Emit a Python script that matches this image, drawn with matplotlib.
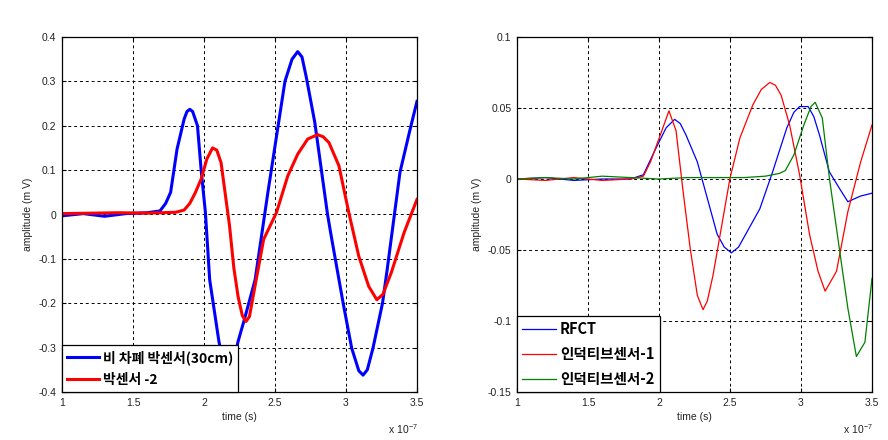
import matplotlib
matplotlib.use("Agg")
import matplotlib.pyplot as plt
from matplotlib.ticker import FixedLocator

# ---------------- data (time in units of 1e-7 s) ----------------
left_blue_x = [1.00, 1.15, 1.30, 1.45, 1.60, 1.69, 1.73, 1.765, 1.81, 1.86, 1.88, 1.90, 1.92, 1.954,
               1.98, 2.01, 2.04, 2.105, 2.14, 2.17, 2.20, 2.24, 2.284, 2.36, 2.45, 2.57, 2.62, 2.66,
               2.69, 2.72, 2.78, 2.87, 2.90, 2.98, 3.04, 3.09, 3.12, 3.15, 3.19, 3.257, 3.29, 3.38,
               3.45, 3.50]
left_blue_y = [-0.003, 0.002, -0.004, 0.002, 0.004, 0.008, 0.025, 0.05, 0.147, 0.215, 0.232, 0.237,
               0.232, 0.20, 0.10, 0.004, -0.147, -0.286, -0.34, -0.36, -0.345, -0.286, -0.237,
               -0.147, 0.05, 0.30, 0.35, 0.367, 0.355, 0.31, 0.208, 0.0, -0.056, -0.2, -0.301,
               -0.352, -0.362, -0.35, -0.301, -0.2, -0.124, 0.095, 0.19, 0.255]

left_red_x = [1.00, 1.20, 1.40, 1.60, 1.80, 1.86, 1.90, 1.94, 1.98, 2.02, 2.06, 2.09, 2.12, 2.18,
              2.21, 2.24, 2.27, 2.296, 2.32, 2.36, 2.42, 2.51, 2.59, 2.66, 2.73, 2.80, 2.84, 2.88,
              2.95, 3.02, 3.09, 3.16, 3.217, 3.26, 3.32, 3.41, 3.50]
left_red_y = [0.002, 0.003, 0.004, 0.003, 0.005, 0.01, 0.025, 0.05, 0.08, 0.125, 0.15, 0.145, 0.117,
              -0.026, -0.12, -0.185, -0.228, -0.241, -0.23, -0.16, -0.056, 0.004, 0.087, 0.136,
              0.17, 0.18, 0.175, 0.162, 0.11, 0.004, -0.094, -0.162, -0.192, -0.18, -0.13, -0.04,
              0.034]

right_blue_x = [1.0, 1.2, 1.4, 1.6, 1.8, 1.89, 1.98, 2.05, 2.11, 2.15, 2.19, 2.27, 2.34, 2.41, 2.46,
                2.51, 2.56, 2.61, 2.71, 2.80, 2.90, 2.95, 2.99, 3.05, 3.09, 3.13, 3.20, 3.27, 3.33,
                3.42, 3.50]
right_blue_y = [0.0, 0.001, -0.001, 0.0, 0.0, 0.003, 0.022, 0.036, 0.042, 0.039, 0.031, 0.012,
                -0.0135, -0.039, -0.048, -0.052, -0.048, -0.039, -0.021, 0.005, 0.036, 0.047,
                0.051, 0.051, 0.044, 0.031, 0.005, -0.0065, -0.016, -0.012, -0.010]

right_red_x = [1.0, 1.2, 1.4, 1.6, 1.8, 1.89, 1.94, 2.02, 2.07, 2.12, 2.17, 2.22, 2.27, 2.31, 2.34,
               2.38, 2.45, 2.50, 2.57, 2.66, 2.72, 2.78, 2.82, 2.86, 2.92, 2.99, 3.06, 3.12, 3.17,
               3.25, 3.33, 3.42, 3.50]
right_red_y = [0.0, -0.001, 0.001, -0.001, 0.0, 0.002, 0.012, 0.034, 0.048, 0.034, -0.009, -0.049,
               -0.082, -0.092, -0.086, -0.068, -0.028, 0.0006, 0.029, 0.052, 0.063, 0.068, 0.066,
               0.059, 0.038, 0.003, -0.039, -0.065, -0.079, -0.065, -0.023, 0.012, 0.038]

right_green_x = [1.0, 1.2, 1.4, 1.6, 1.8, 2.0, 2.2, 2.4, 2.6, 2.75, 2.85, 2.89, 2.95, 3.02, 3.07,
                 3.10, 3.15, 3.20, 3.27, 3.33, 3.39, 3.45, 3.50]
right_green_y = [0.0, 0.001, 0.0, 0.002, 0.001, 0.0, 0.001, 0.001, 0.001, 0.002, 0.004, 0.006, 0.017,
                 0.038, 0.051, 0.054, 0.043, 0.0006, -0.049, -0.091, -0.125, -0.115, -0.070]

x_ticks = [1, 1.5, 2, 2.5, 3, 3.5]
x_tick_labels = ["1", "1.5", "2", "2.5", "3", "3.5"]
left_y_ticks = [0.4, 0.3, 0.2, 0.1, 0, -0.1, -0.2, -0.3, -0.4]
left_y_labels = ["0.4", "0.3", "0.2", "0.1", "0", "-0.1", "-0.2", "-0.3", "-0.4"]
right_y_ticks = [0.1, 0.05, 0, -0.05, -0.1, -0.15]
right_y_labels = ["0.1", "0.05", "0", "-0.05", "-0.1", "-0.15"]

left_labels = ["비 차폐 박센서(30cm)", "박센서 -2"]
right_labels = ["RFCT", "인덕티브센서-1", "인덕티브센서-2"]

xlabel = "time (s)"
ylabel = "amplitude (m V)"
exp_label = r"$\mathregular{x\ 10^{-7}}$"

# ---------------- styling ----------------
plt.rcParams['font.family'] = ['Liberation Sans', 'DejaVu Sans']
TXT = "#222222"
BLUE, RED, GREEN = "#0000ff", "#ff0000", "#008000"

fig = plt.figure(figsize=(8.88, 4.4), dpi=100)
W, H = 888, 440
axL = fig.add_axes([62 / W, 48 / H, 355 / W, 355 / H])
axR = fig.add_axes([517 / W, 48 / H, 355 / W, 355 / H])


def style(ax, yticks, ylabels, ylim):
    ax.set_xlim(1, 3.5)
    ax.set_ylim(*ylim)
    ax.xaxis.set_major_locator(FixedLocator(x_ticks))
    ax.set_xticklabels(x_tick_labels)
    ax.yaxis.set_major_locator(FixedLocator(yticks))
    ax.set_yticklabels(ylabels)
    ax.tick_params(direction='in', top=True, right=True, length=3, width=0.8,
                   labelsize=7.5, labelcolor=TXT, pad=4)
    ax.grid(True, color='black', linestyle=(0, (3, 3)), linewidth=0.7)
    for s in ax.spines.values():
        s.set_linewidth(0.9)
        s.set_color('black')
    ax.set_xlabel(xlabel, fontsize=7.5, color=TXT, labelpad=3)
    ax.set_ylabel(ylabel, fontsize=7.5, color=TXT, labelpad=4)
    ax.text(0.918, -0.105, exp_label, transform=ax.transAxes, fontsize=7.5, color=TXT,
            ha='left', va='center')


style(axL, left_y_ticks, left_y_labels, (-0.4, 0.4))
style(axR, right_y_ticks, right_y_labels, (-0.15, 0.1))

axL.plot(left_blue_x, left_blue_y, color=BLUE, lw=2.2, label=left_labels[0])
axL.plot(left_red_x, left_red_y, color=RED, lw=2.2, label=left_labels[1])

axR.plot(right_blue_x, right_blue_y, color=BLUE, lw=0.9, label=right_labels[0])
axR.plot(right_red_x, right_red_y, color=RED, lw=0.9, label=right_labels[1])
axR.plot(right_green_x, right_green_y, color=GREEN, lw=0.9, label=right_labels[2])

for ax, size in ((axL, 10.0), (axR, 10.5)):
    leg_font = {'family': ['Noto Sans CJK KR', 'DejaVu Sans'], 'weight': 'bold', 'size': size}
    leg = ax.legend(loc='lower left', borderaxespad=0, fancybox=False, frameon=True,
                    prop=leg_font, handlelength=2.3, handletextpad=0.3, labelspacing=0.6,
                    borderpad=0.35)
    fr = leg.get_frame()
    fr.set_edgecolor('black')
    fr.set_linewidth(0.9)
    fr.set_alpha(1)
    for t in leg.get_texts():
        t.set_color('black')

fig.savefig("out.png", dpi=100)
